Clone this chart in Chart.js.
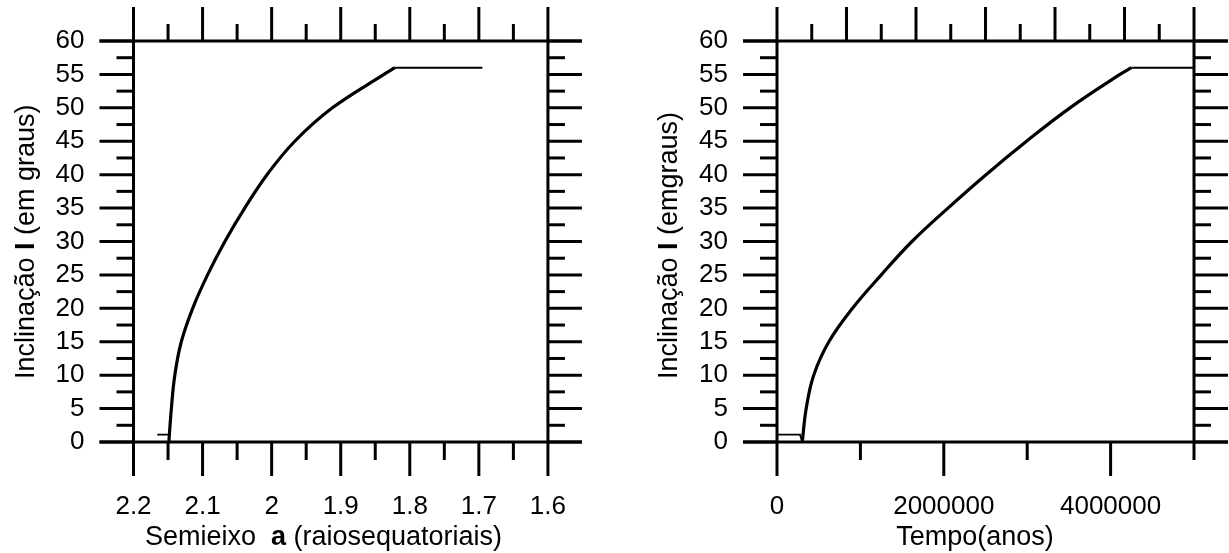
<!DOCTYPE html>
<html>
<head>
<meta charset="utf-8">
<script src="https://cdn.jsdelivr.net/npm/chart.js@4.4.1/dist/chart.umd.min.js"></script>
<style>
  html, body { margin: 0; padding: 0; background: #fff; }
  #wrap { position: relative; width: 1229px; height: 553px; }
  canvas { position: absolute; top: 0; }
  #cA { left: 0; }
  #cB { left: 615px; }
</style>
</head>
<body>
<div id="wrap">
  <canvas id="cA" width="615" height="553"></canvas>
  <canvas id="cB" width="614" height="553"></canvas>
</div>
<script>
// ---- Dados ----

// Eixo y (comum aos dois gráficos)
const yTickValues = [0, 5, 10, 15, 20, 25, 30, 35, 40, 45, 50, 55, 60];

// Gráfico da esquerda: inclinação x semieixo
const xTickValuesA = [2.2, 2.1, 2.0, 1.9, 1.8, 1.7, 1.6];
const xTickLabelsA = ['2.2', '2.1', '2', '1.9', '1.8', '1.7', '1.6'];
const xMinorA = [2.15, 2.05, 1.95, 1.85, 1.75, 1.65];

const semieixoInicio = [2.1656, 2.1488];
const inclInicioA = [1.1, 1.1];
const semieixoCurva = [2.1488, 2.1452, 2.1402, 2.1308, 2.1143, 2.0928, 2.0677, 2.0390, 2.0067, 1.9665, 1.9120, 1.8374, 1.8216];
const inclCurvaA = [0, 5, 10, 15, 20, 25, 30, 35, 40, 45, 50, 55, 56];
const semieixoFim = [1.8216, 1.695];
const inclFimA = [56, 56];

// Gráfico da direita: inclinação x tempo
const xTickValuesB = [0, 2000000, 4000000];
const xTickLabelsB = ['0', '2000000', '4000000'];
const xMinorB = [1000000, 3000000, 5000000];

const tempoInicio = [0, 276000, 303000];
const inclInicioB = [1.1, 1.1, 0];
const tempoCurva = [303000, 350000, 440000, 622000, 905000, 1250000, 1618000, 2050000, 2506000, 2992000, 3513000, 4113000, 4251000];
const inclCurvaB = [0, 5, 10, 15, 20, 25, 30, 35, 40, 45, 50, 55, 56];
const tempoFim = [4251000, 5000000];
const inclFimB = [56, 56];

const FONTE = '"Liberation Sans", Arial, sans-serif';

function pares(xs, ys) {
    return xs.map((v, i) => ({ x: v, y: ys[i] }));
}

/**
 * Desenha o quadro com traços para fora (estilo do original)
 * e os títulos dos eixos com partes em negrito.
 */
const molduraPlugin = {
    id: 'moldura',
    afterDraw(chart, args, opts) {
        const ctx = chart.ctx;
        const area = chart.chartArea;
        const sx = chart.scales.x;
        const sy = chart.scales.y;

        ctx.save();
        ctx.strokeStyle = '#000';
        ctx.lineWidth = 3;
        ctx.lineCap = 'butt';
        const seg = (x1, y1, x2, y2) => {
            ctx.beginPath();
            ctx.moveTo(x1, y1);
            ctx.lineTo(x2, y2);
            ctx.stroke();
        };

        // linhas do quadro
        seg(area.left - 34, area.top, area.right + 34, area.top);
        seg(area.left - 34, area.bottom, area.right + 34, area.bottom);
        seg(area.left, area.top, area.left, area.bottom);
        seg(area.right, area.top, area.right, area.bottom);

        // traços do eixo y, dos dois lados
        for (let v = sy.min; v <= sy.max; v += 2.5) {
            const py = sy.getPixelForValue(v);
            const len = v % 5 === 0 ? 34 : 17;
            seg(area.left - len, py, area.left, py);
            seg(area.right, py, area.right + len, py);
        }

        // traços de baixo
        opts.maiores.forEach(v => {
            const px = sx.getPixelForValue(v);
            seg(px, area.bottom, px, area.bottom + 34);
        });
        opts.menores.forEach(v => {
            const px = sx.getPixelForValue(v);
            seg(px, area.bottom, px, area.bottom + 18);
        });

        // traços de cima (12 divisões)
        for (let k = 0; k <= 12; k++) {
            const px = sx.getPixelForValue(sx.min + k * (sx.max - sx.min) / 12);
            const len = k % 2 === 0 ? 34 : 17;
            seg(px, area.top - len, px, area.top);
        }

        // títulos
        ctx.fillStyle = '#000';
        ctx.textBaseline = 'alphabetic';
        const medir = (partes, size) => partes.reduce((w, p) => {
            ctx.font = (p[1] ? 'bold ' : '') + size + 'px ' + FONTE;
            return w + ctx.measureText(p[0]).width;
        }, 0);
        const escrever = (partes, size, x0) => {
            let x = x0;
            partes.forEach(p => {
                ctx.font = (p[1] ? 'bold ' : '') + size + 'px ' + FONTE;
                ctx.textAlign = 'left';
                ctx.fillText(p[0], x, 0);
                x += ctx.measureText(p[0]).width;
            });
        };

        const tx = opts.tituloX;
        ctx.save();
        ctx.translate(tx.cx, tx.base);
        escrever(tx.partes, tx.size, -medir(tx.partes, tx.size) / 2);
        ctx.restore();

        const ty = opts.tituloY;
        ctx.save();
        ctx.translate(ty.base, ty.inicio);
        ctx.rotate(-Math.PI / 2);
        escrever(ty.partes, ty.size, 0);
        ctx.restore();

        ctx.restore();
    }
};

function criarGrafico(id, cfg) {
    const ctx = document.getElementById(id).getContext('2d');
    return new Chart(ctx, {
        type: 'scatter',
        data: {
            datasets: [
                { data: cfg.inicio, showLine: true, borderColor: '#000', borderWidth: 1.8, pointRadius: 0, tension: 0 },
                { data: cfg.curva, showLine: true, borderColor: '#000', borderWidth: 3.2, pointRadius: 0, tension: 0.4 },
                { data: cfg.fim, showLine: true, borderColor: '#000', borderWidth: 1.8, pointRadius: 0, tension: 0 }
            ]
        },
        options: {
            responsive: false,
            animation: false,
            devicePixelRatio: 1,
            layout: { padding: { top: 41, right: cfg.padRight, bottom: 0, left: 0 } },
            plugins: {
                legend: { display: false },
                tooltip: { enabled: false },
                moldura: {
                    maiores: cfg.xTicks,
                    menores: cfg.xMinor,
                    tituloX: cfg.tituloX,
                    tituloY: cfg.tituloY
                }
            },
            scales: {
                x: {
                    type: 'linear',
                    min: cfg.xMin,
                    max: cfg.xMax,
                    reverse: cfg.reverse,
                    grid: { display: false, drawTicks: false },
                    border: { display: false },
                    afterFit: s => { s.height = 111; },
                    afterBuildTicks: s => { s.ticks = cfg.xTicks.map(v => ({ value: v })); },
                    ticks: {
                        autoSkip: false,
                        maxRotation: 0,
                        padding: 49,
                        color: '#000',
                        font: { family: FONTE, size: 26 },
                        callback: (value, index) => cfg.xLabels[index]
                    }
                },
                y: {
                    min: 0,
                    max: 60,
                    // traços invisíveis só para afastar os rótulos do eixo
                    grid: { display: true, drawOnChartArea: false, drawTicks: true, tickLength: 49, color: 'rgba(0,0,0,0)' },
                    border: { display: false },
                    afterFit: s => { s.width = cfg.yWidth; },
                    afterBuildTicks: s => { s.ticks = yTickValues.map(v => ({ value: v })); },
                    ticks: {
                        autoSkip: false,
                        padding: 0,
                        color: '#000',
                        font: { family: FONTE, size: 26 }
                    }
                }
            }
        },
        plugins: [molduraPlugin]
    });
}

criarGrafico('cA', {
    inicio: pares(semieixoInicio, inclInicioA),
    curva: pares(semieixoCurva, inclCurvaA),
    fim: pares(semieixoFim, inclFimA),
    xMin: 1.6, xMax: 2.2, reverse: true,
    xTicks: xTickValuesA, xLabels: xTickLabelsA, xMinor: xMinorA,
    yWidth: 133.5, padRight: 63.5,
    tituloX: { cx: 323.5, base: 545, size: 27, partes: [['Semieixo  ', false], ['a', true], [' (raiosequatoriais)', false]] },
    tituloY: { base: 33.5, inicio: 379, size: 27, partes: [['Inclinação ', false], ['I', true], [' (em graus)', false]] }
});

criarGrafico('cB', {
    inicio: pares(tempoInicio, inclInicioB),
    curva: pares(tempoCurva, inclCurvaB),
    fim: pares(tempoFim, inclFimB),
    xMin: 0, xMax: 5000000, reverse: false,
    xTicks: xTickValuesB, xLabels: xTickLabelsB, xMinor: xMinorB,
    yWidth: 162, padRight: 35,
    tituloX: { cx: 360, base: 545, size: 27, partes: [['Tempo(anos)', false]] },
    tituloY: { base: 62, inicio: 379, size: 27, partes: [['Inclinação ', false], ['I', true], [' (emgraus)', false]] }
});
</script>
</body>
</html>
